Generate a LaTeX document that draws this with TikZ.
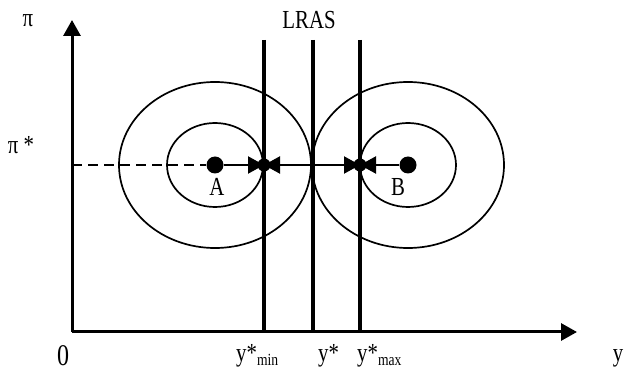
\documentclass[tikz,border=0pt]{standalone}
\usepackage{fontspec}
\setmainfont{Liberation Serif}[FakeStretch=0.8]
\usetikzlibrary{arrows.meta}
\begin{document}
\begin{tikzpicture}[x=1pt,y=-1pt,
  axis/.style={line width=3pt,-{Triangle[length=16pt,width=17pt]}},
  vline/.style={line width=3.6pt},
  curve/.style={line width=1.7pt},
  bigdot/.style={circle,fill=black,inner sep=0pt,minimum size=17pt},
  smalldot/.style={circle,fill=black,inner sep=0pt,minimum size=13pt},
  lab/.style={font=\fontsize{26}{30}\selectfont,inner sep=0pt},
  tipline/.style={line width=2.2pt,-{Triangle[length=16pt,width=17pt]}},
  dashline/.style={line width=2.5pt,dash pattern=on 10pt off 6pt}
]
\fill[white] (0,0) rectangle (624,371);
\useasboundingbox (0,0) rectangle (624,371);

% coordinates
\coordinate (O) at (72,332);
\coordinate (ytip) at (72,20);
\coordinate (xtip) at (577,332);
\coordinate (L1t) at (264,40);
\coordinate (L1b) at (264,332);
\coordinate (L2t) at (313,40);
\coordinate (L2b) at (313,332);
\coordinate (L3t) at (360,40);
\coordinate (L3b) at (360,332);
\coordinate (P1) at (264,165);
\coordinate (P2) at (313,165);
\coordinate (P3) at (360,165);
\coordinate (Y0) at (72,165);
\coordinate (CA) at (215,165);
\coordinate (CB) at (408,165);

% ellipses
\draw[curve] (CA) ellipse [x radius=96, y radius=83];
\draw[curve] (CA) ellipse [x radius=48, y radius=42];
\draw[curve] (CB) ellipse [x radius=96, y radius=83];
\draw[curve] (CB) ellipse [x radius=48, y radius=42];

% axes
\draw[axis] (O) -- (ytip);
\draw[axis] (O) -- (xtip);

% vertical lines
\draw[vline] (L1t) -- (L1b);
\draw[vline] (L2t) -- (L2b);
\draw[vline] (L3t) -- (L3b);

% points
\node[bigdot] (A) at (CA) {};
\node[bigdot] (B) at (CB) {};
\draw[dashline] (Y0) -- (A);
\draw[line width=2.2pt] (A) -- (B);
\draw[tipline] (A) -- (P1);
\draw[tipline] (P2) -- (P1);
\draw[tipline] (P2) -- (P3);
\draw[tipline] (B) -- (P3);
\node[smalldot] (D1) at (P1) {};
\node[smalldot] (D3) at (P3) {};

% labels
\node[lab] (pi) at (28,21) {π};
\node[lab] (pistar) at (21,145) {π *};
\node[lab] (LRAS) at (309,20) {LRAS};
\node[lab] (Alab) at (217,187) {A};
\node[lab] (Blab) at (398,187) {B};
\node[lab,font=\fontsize{30}{34}\selectfont,anchor=base] (zero) at (63,366) {0};
\node[lab,anchor=base west] (ymin) at (236,362) {y*\raisebox{-4pt}{\fontsize{17}{20}\selectfont min}};
\node[lab,anchor=base west] (ystar) at (318,362) {y*};
\node[lab,anchor=base west] (ymax) at (357,362) {y*\raisebox{-4pt}{\fontsize{17}{20}\selectfont max}};
\node[lab,anchor=base] (ylab) at (618,362) {y};
\end{tikzpicture}
\end{document}
